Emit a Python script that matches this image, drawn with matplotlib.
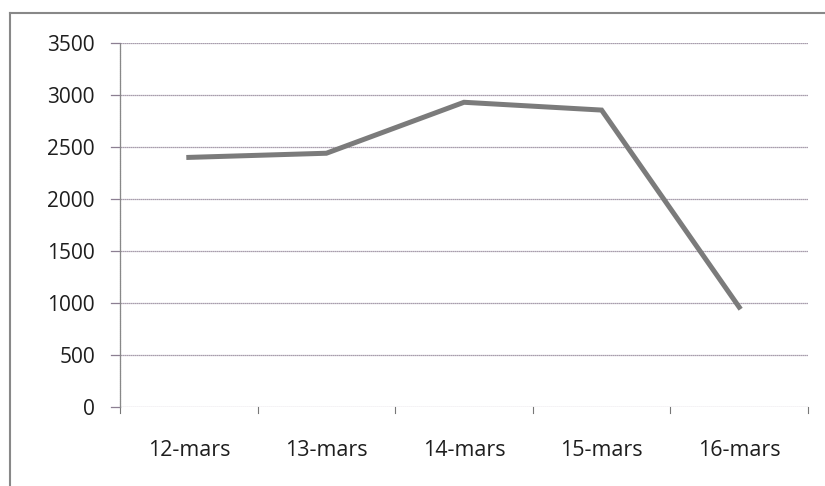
import matplotlib.pyplot as plt
from matplotlib.lines import Line2D

# Data
dates = ["12-mars", "13-mars", "14-mars", "15-mars", "16-mars"]
values = [2400, 2440, 2930, 2855, 960]
y_ticks = [0, 500, 1000, 1500, 2000, 2500, 3000, 3500]

grid_col = "#8c7f92"

fig = plt.figure(figsize=(8.25, 4.86), dpi=100)
ax = fig.add_axes([120 / 825, 1 - 407 / 486, 688 / 825, 364 / 486])

x = range(len(dates))
ax.plot(x, values, color="#7b7b7b", linewidth=3.6, solid_joinstyle="miter")

ax.set_xlim(-0.5, len(dates) - 0.5)
ax.set_ylim(0, 3500)
ax.set_yticks(y_ticks)
ax.set_yticklabels([str(v) for v in y_ticks], fontsize=15, color="#1e1e1e",
                   family="Open Sans")
ax.set_xticks(list(x))
ax.set_xticklabels(dates, fontsize=15.5, color="#1e1e1e", family="Open Sans")
ax.tick_params(axis="x", length=0, pad=24)
ax.tick_params(axis="y", length=0, pad=18)

# category boundary ticks below x axis
for b in [i - 0.5 for i in range(len(dates) + 1)]:
    ax.plot([b, b], [0, -60], color="#777777", linewidth=0.8, clip_on=False)

ax.yaxis.grid(True, color=grid_col, linewidth=0.9, linestyle=(0, (1, 0.6)))
ax.set_axisbelow(True)
for s in ["top", "right"]:
    ax.spines[s].set_visible(False)
ax.spines["bottom"].set_visible(False)
ax.spines["left"].set_color("#888888")
ax.spines["left"].set_linestyle((0, (1, 0.6)))
ax.spines["left"].set_linewidth(0.9)
# extend grid lines a bit left of the axis like the original
for v in y_ticks:
    ax.plot([-0.565, -0.5], [v, v], color=grid_col, linewidth=0.9, clip_on=False)

# outer chart frame
fig.add_artist(Line2D([10 / 825, 10 / 825], [0, 1 - 13 / 486], color="#888888", linewidth=1.5))
fig.add_artist(Line2D([10 / 825, 1], [1 - 13 / 486, 1 - 13 / 486], color="#888888", linewidth=1.5))

fig.savefig("out.png", dpi=100)
